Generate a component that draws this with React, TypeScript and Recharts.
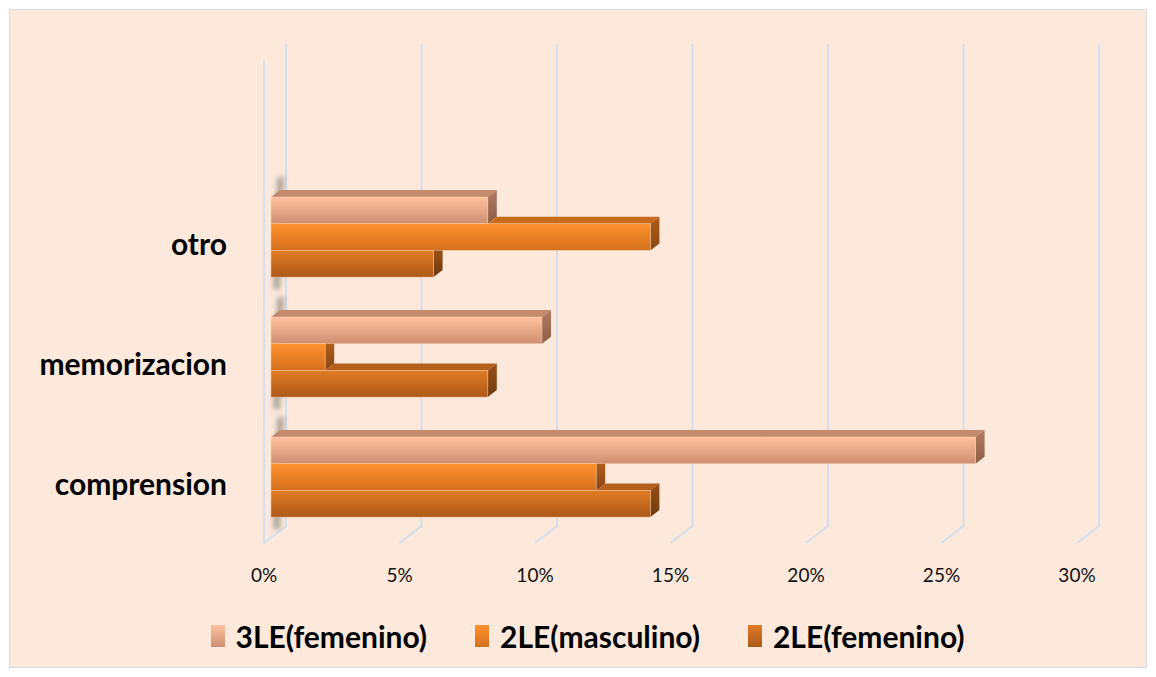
import React from "react";
import { Bar, BarChart, CartesianGrid, XAxis, YAxis } from "recharts";

/* ────────── 3D-style horizontal grouped bars ────────── */

const categories = ["otro", "memorizacion", "comprension"];
const femenino3LE = [8, 10, 26];
const masculino2LE = [14, 2, 12];
const femenino2LE = [6, 8, 14];
const seriesNames = ["3LE(femenino)", "2LE(masculino)", "2LE(femenino)"];
const xTicks = [0, 5, 10, 15, 20, 25, 30];

const data = categories.map((name, i) => ({
  name,
  f3: femenino3LE[i],
  m2: masculino2LE[i],
  f2: femenino2LE[i],
}));

const DX = 9;
const DY = 7;
const FONT = "Lato, 'Open Sans', sans-serif";

type Look = { id: string; top: string; bottom: string; slab: string; sideA: string; sideB: string };

const looks: Look[] = [
  { id: "g3", top: "#FFC19F", bottom: "#CC8F72", slab: "#C38A6C", sideA: "#B27C62", sideB: "#8C5D46" },
  { id: "gm", top: "#FF922E", bottom: "#D4701E", slab: "#C76B1C", sideA: "#AE5C18", sideB: "#8A4712" },
  { id: "gf", top: "#E27C26", bottom: "#AC5917", slab: "#B5601A", sideA: "#9A5015", sideB: "#6E3A0C" },
];

const keys = ["f3", "m2", "f2"];

// bar i is drawn after the bar above it, so hide the parts the bar above covers
function make3DShape(idx: number) {
  const look = looks[idx];
  const aboveKey = idx > 0 ? keys[idx - 1] : null;
  return (props: any) => {
    const { x, y, width, height, payload, value } = props;
    const v = Array.isArray(value) ? value[1] - value[0] : value;
    const ppu = v ? width / v : 0;
    const x2 = x + width;
    const aboveEnd = aboveKey ? x + payload[aboveKey] * ppu : null;

    const parts: React.ReactNode[] = [];
    if (idx === 0) {
      parts.push(
        <polygon
          key="sh"
          points={`${x + 2},${y + height * 3 + 12} ${x + 6},${y - DY - 12} ${x + 13},${y - DY - 14} ${x + 9},${y + height * 3 + 12}`}
          fill="#6f6f6f"
          opacity={0.55}
          filter="url(#blurShadow)"
        />
      );
    }
    // top slab
    const slabStart = aboveEnd == null ? x : aboveEnd;
    if (x2 > slabStart) {
      parts.push(
        <polygon
          key="top"
          points={`${slabStart},${y} ${x2},${y} ${x2 + DX},${y - DY} ${slabStart + DX},${y - DY}`}
          fill={look.slab}
        />
      );
    }
    // right side
    const hidden = aboveEnd != null && x2 < aboveEnd;
    const sidePts = hidden
      ? `${x2},${y} ${x2 + DX},${y} ${x2 + DX},${y + height - DY} ${x2},${y + height}`
      : `${x2},${y} ${x2 + DX},${y - DY} ${x2 + DX},${y + height - DY} ${x2},${y + height}`;
    parts.push(<polygon key="side" points={sidePts} fill={`url(#${look.id}s)`} />);
    // front face
    parts.push(
      <rect
        key="front"
        x={x}
        y={y}
        width={width}
        height={height}
        fill={`url(#${look.id})`}
        stroke="rgba(255,214,180,0.55)"
        strokeWidth={0.8}
      />
    );
    return <g>{parts}</g>;
  };
}

const gridLine = (props: any) => {
  const { x1, y1, y2, index } = props;
  const back = x1 + 15;
  const front = x1 - 7;
  return (
    <g key={`gl-${x1}`}>
      <polyline
        points={`${back},${y1 - 133} ${back},${y2 - 11} ${front},${y2 + 6}`}
        fill="none"
        stroke="#D3DFEE"
        strokeWidth={2}
      />
      {index === 0 && (
        <line x1={front} y1={y1 - 116} x2={front} y2={y2 + 6} stroke="#D3DFEE" strokeWidth={2} />
      )}
    </g>
  );
};

const XTick = (props: any) => {
  const { x, y, payload } = props;
  return (
    <text x={x - 7} y={y + 37} textAnchor="middle" fontFamily={FONT} fontSize={19} fill="#111">
      {`${payload.value}%`}
    </text>
  );
};

const CatTick = (props: any) => {
  const { y, payload } = props;
  return (
    <text x={227} y={y + 18} textAnchor="end" fontFamily={FONT} fontSize={30} fontWeight={700} fill="#000">
      {payload.value}
    </text>
  );
};

export default function App() {
  return (
    <div
      style={{
        position: "absolute",
        left: 0,
        top: 0,
        width: 1156,
        height: 677,
        background: "#fff",
      }}
    >
      <div
        style={{
          position: "absolute",
          left: 9,
          top: 9,
          width: 1136,
          height: 657,
          background: "#FCE9DB",
          border: "1.5px solid #D6DCE6",
        }}
      />
      <div style={{ position: "absolute", left: 0, top: 0 }}>
        <BarChart
          width={1156}
          height={677}
          data={data}
          layout="vertical"
          margin={{ top: 177, right: 72, left: 21, bottom: 100 }}
          barSize={26.7}
          barGap={0}
        >
          <defs>
            <filter id="blurShadow" x="-100%" y="-20%" width="300%" height="140%">
              <feGaussianBlur stdDeviation="2.5" />
            </filter>
            {looks.map((l) => (
              <React.Fragment key={l.id}>
                <linearGradient id={l.id} x1="0" y1="0" x2="0" y2="1">
                  <stop offset="0%" stopColor={l.top} />
                  <stop offset="100%" stopColor={l.bottom} />
                </linearGradient>
                <linearGradient id={`${l.id}s`} x1="0" y1="0" x2="0" y2="1">
                  <stop offset="0%" stopColor={l.sideA} />
                  <stop offset="100%" stopColor={l.sideB} />
                </linearGradient>
              </React.Fragment>
            ))}
          </defs>
          <CartesianGrid horizontal={false} vertical={gridLine} />
          <XAxis
            type="number"
            domain={[0, 30]}
            ticks={xTicks}
            interval={0}
            axisLine={false}
            tickLine={false}
            height={40}
            tick={<XTick />}
          />
          <YAxis
            type="category"
            dataKey="name"
            width={250}
            axisLine={false}
            tickLine={false}
            tick={<CatTick />}
          />
          {keys.map((k, i) => (
            <Bar
              key={k}
              dataKey={k}
              name={seriesNames[i]}
              shape={make3DShape(i)}
              isAnimationActive={false}
            />
          ))}
        </BarChart>
      </div>
      <div
        style={{
          position: "absolute",
          top: 618,
          left: 0,
          width: 1156,
          display: "flex",
          justifyContent: "center",
          gap: 48,
          paddingLeft: 19,
          boxSizing: "border-box",
          fontFamily: FONT,
          fontWeight: 700,
          fontSize: 30,
          color: "#000",
        }}
      >
        {seriesNames.map((n, i) => (
          <div key={n} style={{ display: "flex", alignItems: "center" }}>
            <span
              style={{
                display: "inline-block",
                width: 14,
                height: 22,
                marginRight: 11,
                background: `linear-gradient(${looks[i].top}, ${looks[i].bottom})`,
              }}
            />
            <span>{n}</span>
          </div>
        ))}
      </div>
    </div>
  );
}
